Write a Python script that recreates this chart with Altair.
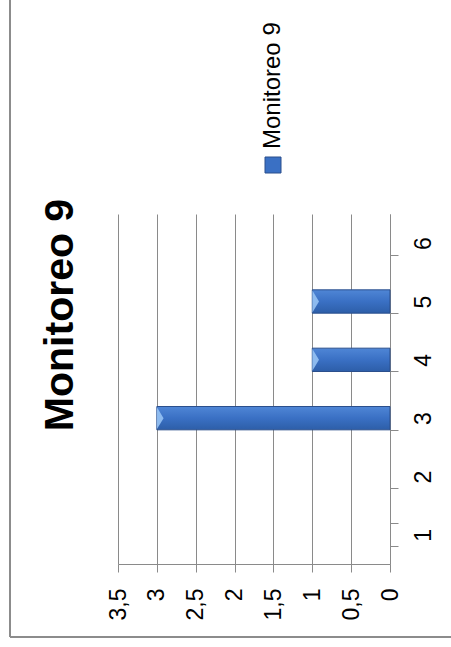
import altair as alt
import pandas as pd

categories = [1, 2, 3, 4, 5, 6]
values = [0, 0, 3, 1, 1, 0]
series_name = "Monitoreo 9"
title_text = "Monitoreo 9"
value_ticks = [0, 0.5, 1, 1.5, 2, 2.5, 3, 3.5]

df = pd.DataFrame({"cat": categories, "val": values})
one = pd.DataFrame({"a": [0]})

FONT = "Liberation Sans"
GRAY = "#8a8a8a"

xscale = alt.Scale(domain=[0, 3.5], reverse=True, nice=False, zero=True)
yscale = alt.Scale(domain=categories, reverse=True, paddingInner=0.6, paddingOuter=0.3)

xaxis = alt.Axis(
    values=value_ticks,
    labelExpr="replace(toString(datum.value), '.', ',')",
    labelAngle=270,
    labelFont=FONT,
    labelFontSize=23,
    labelColor="#000000",
    labelPadding=16,
    labelOverlap=False,
    labelFlush=False,
    grid=True,
    gridColor=GRAY,
    gridWidth=1,
    domainColor=GRAY,
    tickColor=GRAY,
    tickSize=8,
    orient="bottom",
)
yaxis = alt.Axis(
    orient="right",
    labelAngle=270,
    labelAlign="center",
    labelBaseline="top",
    labelFont=FONT,
    labelFontSize=23,
    labelColor="#000000",
    labelPadding=14,
    labelOverlap=False,
    tickBand="extent",
    domainColor=GRAY,
    tickColor=GRAY,
    tickSize=8,
    grid=False,
)

base = alt.Chart(df).transform_filter("datum.val > 0")

bars = base.mark_bar(
    stroke="#2b4f8c",
    strokeWidth=1,
    color=alt.Gradient(
        gradient="linear",
        stops=[
            alt.GradientStop(color="#4f86d6", offset=0),
            alt.GradientStop(color="#3a70c4", offset=0.5),
            alt.GradientStop(color="#2d5ea8", offset=1),
        ],
        x1=0, x2=0, y1=0, y2=1,
    ),
).encode(
    x=alt.X("val:Q", scale=xscale, title=None, axis=xaxis),
    y=alt.Y("cat:O", scale=yscale, title=None, axis=yaxis),
)

chevron = base.mark_point(
    shape="M0,-1L0.6,0L0,1Z",
    filled=True,
    size=500,
    color="#9cc8f7",
    opacity=0.85,
).encode(
    x=alt.X("val:Q", scale=xscale, title=None, axis=xaxis),
    y=alt.Y("cat:O", scale=yscale, title=None, axis=yaxis),
)

title = alt.Chart(one).mark_text(
    text=title_text,
    angle=270,
    align="center",
    baseline="middle",
    font=FONT,
    fontSize=41,
    fontWeight="bold",
    color="#000000",
).encode(x=alt.value(-57), y=alt.value(101))

legend_sym = alt.Chart(one).mark_square(
    size=256,
    filled=True,
    opacity=1,
    color="#3a70c4",
    stroke="#2b4f8c",
    strokeWidth=1,
).encode(x=alt.value(155), y=alt.value(-49))

legend_txt = alt.Chart(one).mark_text(
    text=series_name,
    angle=270,
    align="left",
    baseline="middle",
    font=FONT,
    fontSize=24,
    color="#000000",
).encode(x=alt.value(155), y=alt.value(-65))

frame_left = alt.Chart(one).mark_rule(color="#8c8c8c", strokeWidth=2).encode(
    x=alt.value(-108), y=alt.value(-214), y2=alt.value(423)
)
frame_bottom = alt.Chart(one).mark_rule(color="#8c8c8c", strokeWidth=2).encode(
    x=alt.value(-108), x2=alt.value(333), y=alt.value(423)
)

chart = alt.layer(
    bars, chevron, title, legend_sym, legend_txt, frame_left, frame_bottom
).properties(
    width=272,
    height=350,
    padding={"left": 118, "top": 214, "right": 61, "bottom": 83},
    autosize=alt.AutoSizeParams(type="none"),
    background="#ffffff",
).configure_view(stroke=None)

chart.save("out.html", embed_options={"renderer": "svg", "actions": False})
